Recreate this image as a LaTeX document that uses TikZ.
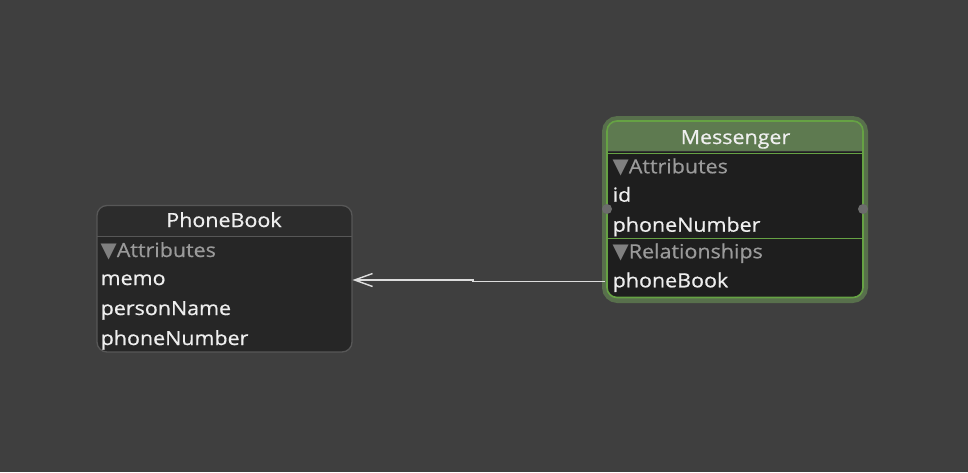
\documentclass[tikz,border=0pt]{standalone}
\usepackage{fontspec}
\setmainfont[FakeStretch=1.1,FakeBold=0.6]{Open Sans}
\newfontfamily\symfont{DejaVu Sans}
\usetikzlibrary{arrows.meta}
\definecolor{bg}{HTML}{3F3F3F}
\definecolor{pbhead}{HTML}{2C2C2C}
\definecolor{pbbody}{HTML}{262626}
\definecolor{pbedge}{HTML}{575757}
\definecolor{mhead}{HTML}{5E7A50}
\definecolor{mbody}{HTML}{1E1E1E}
\definecolor{medge}{HTML}{66A244}
\definecolor{mglow}{HTML}{58704C}
\definecolor{txt}{HTML}{EEEEEE}
\definecolor{sect}{HTML}{9A9A9A}
\definecolor{tri}{HTML}{808080}
\definecolor{handle}{HTML}{6C6C6C}
\definecolor{wire}{HTML}{DDDDDD}
\tikzset{
  field/.style={anchor=base west, inner sep=0pt, text=txt, font=\fontsize{19.5}{20}\selectfont},
  title/.style={anchor=base, inner sep=0pt, text=txt, font=\fontsize{19.5}{20}\selectfont},
  section/.style={anchor=base west, inner sep=0pt, text=sect, font=\fontsize{19.5}{20}\selectfont},
}
\newcommand{\tri}{\textcolor{tri}{\symfont\fontsize{21}{21}\selectfont\char"25BC}}
\begin{document}
\begin{tikzpicture}[x=1pt,y=-1pt]
\fill[bg] (0,0) rectangle (968,472);
\useasboundingbox (0,0) rectangle (968,472);

% PhoneBook entity
\begin{scope}
\clip[rounded corners=10pt] (97,205.5) rectangle (352,352);
\fill[pbbody] (97,205.5) rectangle (352,352);
\fill[pbhead] (97,205.5) rectangle (352,236.5);
\draw[pbedge, line width=1.2pt] (97,236.5) -- (352,236.5);
\end{scope}
\node[draw=pbedge, line width=1.3pt, rounded corners=10pt, minimum width=255pt, minimum height=146.5pt, inner sep=0pt] (pb) at (224.5,278.75) {};
\node[title] (pbtitle) at (224,227) {PhoneBook};
\node[section] (pbattr) at (100.5,257) {\tri Attributes};
\node[field] (pbmemo) at (100.5,285) {memo};
\node[field] (pbname) at (100.5,315) {personName};
\node[field] (pbnum) at (100.5,345) {phoneNumber};

% Messenger entity
\node[draw=mglow, line width=5pt, rounded corners=13pt, minimum width=261pt, minimum height=182pt, inner sep=0pt] (mglow) at (735,209.5) {};
\begin{scope}
\clip[rounded corners=10pt] (607,121) rectangle (863,297.5);
\fill[mbody] (607,121) rectangle (863,297.5);
\fill[mhead] (607,121) rectangle (863,151.5);
\draw[black!80, line width=1pt] (607,151.5) -- (863,151.5);
\draw[medge, line width=1.3pt] (607,153.3) -- (863,153.3);
\draw[medge, line width=1.5pt] (607,238.5) -- (863,238.5);
\end{scope}
\node[draw=medge, line width=1.6pt, rounded corners=10pt, minimum width=256pt, minimum height=176.5pt, inner sep=0pt] (msg) at (735,209.25) {};
\node[title] (mtitle) at (735.5,144) {Messenger};
\node[section] (mattr) at (612.5,173.3) {\tri Attributes};
\node[field] (mid) at (612.5,201.7) {id};
\node[field] (mnum) at (612.5,231.7) {phoneNumber};
\node[section] (mrel) at (612.5,258.3) {\tri Relationships};
\node[field] (mbook) at (612.5,287.3) {phoneBook};
\fill[handle] (607,209) circle (5pt);
\fill[handle] (863,209) circle (5pt);

% relationship connector
\coordinate (relstart) at (605,281.3);
\coordinate (relstep) at (473,281.3);
\coordinate (relend) at (352.5,280);
\draw[wire, line width=1.4pt, -{Straight Barb[length=18pt,width=13pt,line width=1.4pt]}]
  (relstart) -- (relstep) -- ++(0,-1.3) -- (relend);
\end{tikzpicture}
\end{document}
